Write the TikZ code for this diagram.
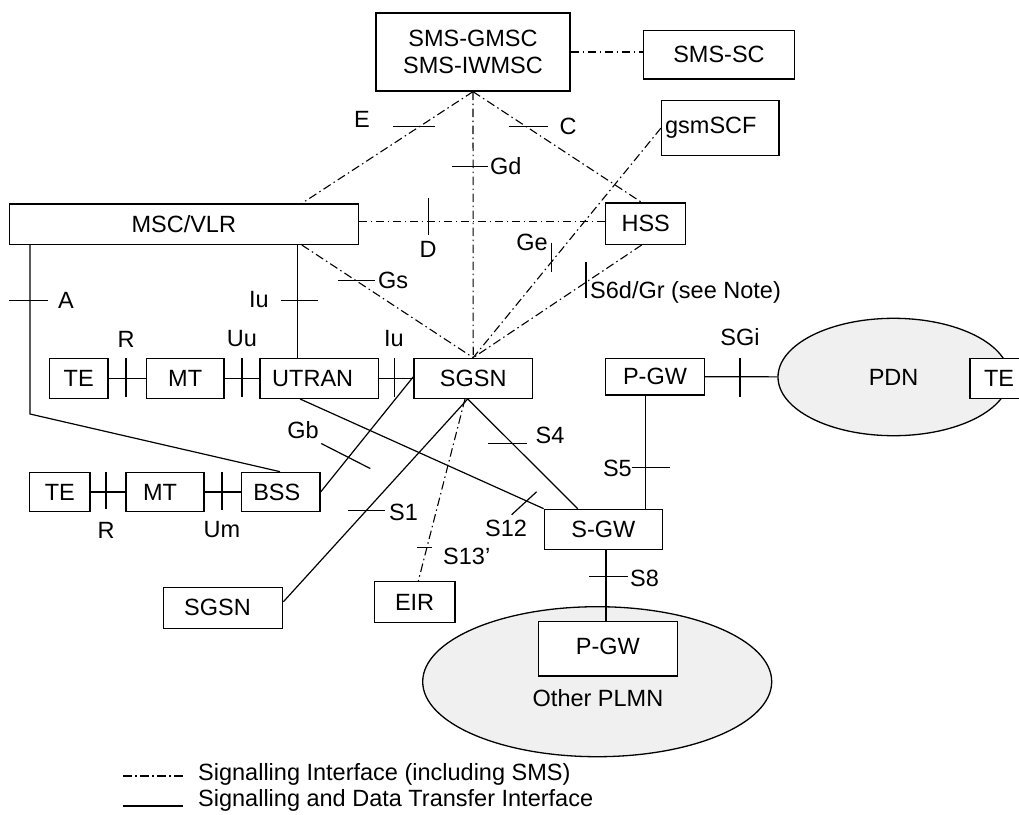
\documentclass[tikz,border=0pt]{standalone}
\usepackage{fontspec}
\setmainfont{Liberation Sans}
\usetikzlibrary{shapes.geometric}
\begin{document}
\begin{tikzpicture}[x=1pt,y=-1pt,
  font=\fontsize{23.5}{27}\selectfont,
  box/.style={draw, line width=1.3pt, inner sep=0pt, fill=white},
  sig/.style={line width=1.1pt, dash pattern=on 8.5pt off 3.5pt on 1.5pt off 3.5pt},
  sol/.style={line width=1.2pt},
  tick/.style={line width=1.2pt},
  lab/.style={inner sep=0pt},
  cloud/.style={draw, ellipse, line width=1.3pt, fill=black!6, inner sep=0pt}]
\useasboundingbox (0,0) rectangle (1019,814);

% clouds
\node[cloud, minimum width=231.2, minimum height=117.4] (pdn) at (893.6,377) {PDN};
\node[cloud, minimum width=349, minimum height=150] (plmn) at (597.2,681.7) {};
\node[lab] (plmnlab) at (598,698) {Other PLMN};

% boxes
\node[box, minimum width=194, minimum height=78, align=center] (gmsc) at (473,52) {SMS-GMSC\\SMS-IWMSC};
\node[box, minimum width=150.6, minimum height=48.3] (smssc) at (719,54.9) {SMS-SC};
\node[box, minimum height=55.4, text width=110.3, align=left, inner xsep=3.5] (scf) at (720.3,128) {gsmSCF};
\node[box, minimum width=80, minimum height=41.3] (hss) at (645.7,223.7) {HSS};
\node[box, minimum width=349, minimum height=40.3] (msc) at (183.8,224.2) {MSC/VLR};
\node[box, minimum width=58.7, minimum height=40] (te1) at (78.7,378.3) {TE};
\node[box, minimum width=77.7, minimum height=40] (mt1) at (185.2,378.3) {MT};
\node[box, minimum width=118.3, minimum height=40] (utran) at (319.2,378.3) {UTRAN\kern13pt};
\node[box, minimum width=118.3, minimum height=40] (sgsn) at (473.2,378.3) {SGSN};
\node[box, minimum width=98.6, minimum height=36.7] (pgw) at (655,376.7) {P-GW};
\node[box, minimum width=58, minimum height=40] (te3) at (999,378.3) {TE};
\node[box, minimum width=60.3, minimum height=39.4] (te2) at (59.8,492) {TE};
\node[box, minimum width=78, minimum height=39.4] (mt2) at (165,492) {MT\kern10pt};
\node[box, minimum width=78.3, minimum height=39.4] (bss) at (280.8,492) {BSS\kern8pt};
\node[box, minimum width=118, minimum height=40] (sgw) at (603.3,529.3) {S-GW};
\node[box, minimum width=119.4, minimum height=41] (sgsn2) at (223,607.8) {SGSN\kern11pt};
\node[box, minimum width=80.7, minimum height=40.6] (eir) at (414.6,602) {EIR};
\node[box, minimum width=139, minimum height=54.3] (pgw2) at (607.8,648.8) {\raisebox{6pt}{P-GW}};

% signalling interfaces
\draw[sig] (gmsc.east) -- (gmsc.east -| smssc.west);
\draw[sig] (gmsc.south) -- coordinate[pos=0.31] (tE) ([xshift=118]msc.north);
\draw[tick] ([xshift=-27]tE) -- ([xshift=15]tE);
\draw[sig] (gmsc.south) -- coordinate[pos=0.281] (tGd) (sgsn.north);
\draw[tick] ([xshift=-21]tGd) -- ([xshift=15]tGd);
\draw[sig] (gmsc.south) -- coordinate[pos=0.3125] (tC) ([xshift=-4]hss.north);
\draw[tick] ([xshift=-17]tC) -- ([xshift=22]tC);
\coordinate (dL) at ([yshift=2.5]msc.east);
\draw[sig] (dL) -- coordinate[pos=0.282] (tD) (dL -| hss.west);
\draw[tick] ([yshift=24]tD) -- ([yshift=-13]tD);
\draw[sig] ([xshift=118]msc.south) -- coordinate[pos=0.316] (tGs) (sgsn.north);
\draw[tick] ([xshift=-18]tGs) -- ([xshift=19]tGs);
\draw[sig] (scf.west) -- coordinate[pos=0.582] (tGe) (sgsn.north);
\draw[tick] ([yshift=19]tGe) -- ([yshift=-10]tGe);
\draw[sig] ([xshift=-4]hss.south) -- coordinate[pos=0.331] (tS6) (sgsn.north);
\draw[tick] ([yshift=20]tS6) -- ([yshift=-16]tS6);
\draw[sig] ([xshift=-8.2]sgsn.south) -- coordinate[pos=0.817] (tS13) ([xshift=3.7]eir.north);
\draw[tick] ([xshift=-10]tS13) -- ([xshift=5]tS13);

% signalling and data transfer interfaces
\coordinate (abend) at (30,414);
\draw[sol] ([xshift=-153.8]msc.south) -- coordinate[pos=0.329] (tA) (abend) -- ([xshift=-0.8]bss.north);
\draw[tick] ([xshift=-21]tA) -- ([xshift=18]tA);
\draw[sol] ([xshift=113.9]msc.south) -- coordinate[pos=0.491] (tIu) ([xshift=-21.5]utran.north);
\draw[tick] ([xshift=-17]tIu) -- ([xshift=20]tIu);
\draw[sol] (te1) -- coordinate[pos=0.47] (tR) (mt1);
\draw[tick] ([yshift=20]tR) -- ([yshift=-19]tR);
\draw[sol] (mt1) -- coordinate[pos=0.5] (tUu) (utran);
\draw[tick] ([yshift=20]tUu) -- ([yshift=-19]tUu);
\draw[sol] (utran) -- coordinate[pos=0.44] (tIu2) (sgsn);
\draw[tick] ([yshift=20]tIu2) -- ([yshift=-19]tIu2);
\draw[sol] (te2) -- coordinate[pos=0.444] (tR2) (mt2);
\draw[tick] ([yshift=20]tR2) -- ([yshift=-17]tR2);
\draw[sol] (mt2) -- coordinate[pos=0.477] (tUm) (bss);
\draw[tick] ([yshift=20]tUm) -- ([yshift=-18]tUm);
\draw[sol] (bss.east) -- coordinate[pos=0.3] (tGb) ([yshift=1.6]sgsn.west);
\draw[tick] ([xshift=-27.2,yshift=13.9]tGb) -- ([xshift=21.8,yshift=-11.1]tGb);
\draw[sol] ([xshift=-19.2]utran.south) -- coordinate[pos=0.93] (tS12) (sgw.north west);
\draw[tick] ([xshift=-15,yshift=-13.8]tS12) -- ([xshift=10,yshift=9.2]tS12);
\draw[sol] ([xshift=-5.5]sgsn.south) -- coordinate[pos=0.405] (tS4) ([xshift=-25.6]sgw.north);
\draw[tick] ([xshift=-24]tS4) -- ([xshift=14.7]tS4);
\draw[sol] ([xshift=-5.5]sgsn.south) -- coordinate[pos=0.55] (tS1) ([yshift=6]sgsn2.east);
\draw[tick] ([xshift=-18]tS1) -- ([xshift=19]tS1);
\draw[sol] (pgw) -- coordinate[pos=0.484] (tSGi) (pdn);
\draw[tick] ([yshift=19]tSGi) -- ([yshift=-20]tSGi);
\draw[sol] ([xshift=-9.3]pgw.south) -- coordinate[pos=0.639] (tS5) ([xshift=42.4]sgw.north);
\draw[tick] ([xshift=-14]tS5) -- ([xshift=24]tS5);
\draw[sol] ([xshift=2.7]sgw.south) -- coordinate[pos=0.369] (tS8) ([xshift=-1.8]pgw2.north);
\draw[tick] ([xshift=-17]tS8) -- ([xshift=22]tS8);

% interface labels
\node[lab] (lE) at (362,119) {E};
\node[lab] (lC) at (568,126) {C};
\node[lab, anchor=west] (lGd) at (490,166) {Gd};
\node[lab] (lD) at (428,249) {D};
\node[lab] (lGe) at (532,242) {Ge};
\node[lab, anchor=west] (lGs) at (378,280) {Gs};
\node[lab, anchor=west] (lS6) at (590,292) {S6d/Gr (see Note)};
\node[lab] (lA) at (66,300) {A};
\node[lab] (lIu) at (259,300) {Iu};
\node[lab] (lR) at (126,339) {R};
\node[lab] (lUu) at (242,339) {Uu};
\node[lab] (lIu2) at (394,339) {Iu};
\node[lab] (lSGi) at (740,337) {SGi};
\node[lab] (lS4) at (550,435) {S4};
\node[lab] (lGb) at (303,430) {Gb};
\node[lab, anchor=east] (lS5) at (632,468) {S5};
\node[lab, anchor=west] (lS1) at (389,512) {S1};
\node[lab] (lS12) at (506,528) {S12};
\node[lab] (lR2) at (106,530) {R};
\node[lab] (lUm) at (222,530) {Um};
\node[lab, anchor=west] (lS13) at (443,556) {S13’};
\node[lab, anchor=west] (lS8) at (630,578) {S8};

% legend
\coordinate (lg1a) at (123,776);
\coordinate (lg1b) at (183,776);
\coordinate (lg2a) at (123,806);
\coordinate (lg2b) at (183,806);
\draw[sig] (lg1a) -- (lg1b);
\draw[sol] (lg2a) -- (lg2b);
\node[lab, anchor=west] (lgt1) at (198,774) {Signalling Interface (including SMS)};
\node[lab, anchor=west] (lgt2) at (198,800) {Signalling and Data Transfer Interface};
\end{tikzpicture}
\end{document}
